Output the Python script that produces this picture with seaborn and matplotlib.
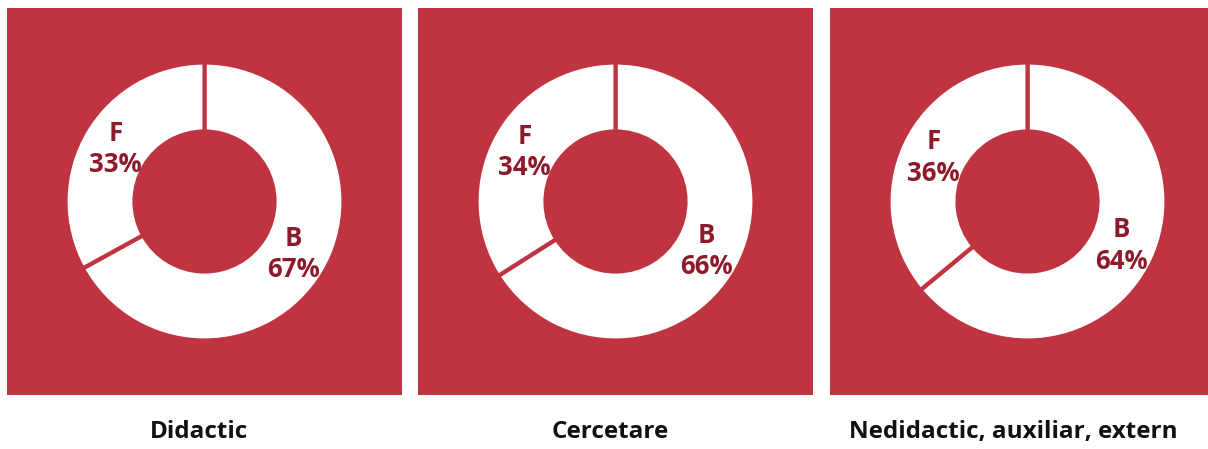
import matplotlib
matplotlib.use("Agg")
import matplotlib.pyplot as plt
import seaborn as sns

sns.set_theme(style="white")
plt.rcParams['font.family'] = ['Open Sans', 'DejaVu Sans']

categories = ["Didactic", "Cercetare", "Nedidactic, auxiliar, extern"]
segment_labels = ["B", "F"]
b_values = [67, 66, 64]
f_values = [33, 34, 36]

BG = "#BF3440"
TXT = "#8C1A2B"

W, H = 1208, 449
fig = plt.figure(figsize=(W / 100, H / 100), dpi=100)
fig.patch.set_facecolor("white")

panel_left = [7, 418, 830]
title_x = [199, 610, 1013]
panel_w = 395
panel_top = 8
panel_bottom = 395
R_px = 139.0
inner_frac = 70.0 / 139.0

for i, cat in enumerate(categories):
    x0 = panel_left[i]
    ax = fig.add_axes([x0 / W, (H - panel_bottom) / H, panel_w / W,
                       (panel_bottom - panel_top) / H])
    vals = [b_values[i], f_values[i]]
    labels = [f"{s}\n{v}%" for s, v in zip(segment_labels, vals)]
    wedges, texts = ax.pie(vals, labels=labels, startangle=90, counterclock=False,
                           colors=["white", "white"], radius=1.0,
                           labeldistance=0.745, frame=True,
                           wedgeprops=dict(width=1 - inner_frac, edgecolor=BG, linewidth=3),
                           textprops=dict(color=TXT, fontsize=18.5, fontweight="bold",
                                          linespacing=1.2))
    ax.set_facecolor(BG)
    for t in texts:
        t.set_ha("center")
        t.set_va("center")
    hx = panel_w / 2 / R_px
    hy = (panel_bottom - panel_top) / 2 / R_px
    ax.set_xlim(-hx, hx)
    ax.set_ylim(-hy, hy)
    ax.set_aspect("auto")
    ax.set_xticks([])
    ax.set_yticks([])
    ax.grid(False)
    for s in ax.spines.values():
        s.set_visible(False)
    fig.text(title_x[i] / W, 1 - 432 / H, cat, ha="center", va="center",
             fontsize=17.5, fontweight="bold", color="#111111")

fig.savefig("out.png", dpi=100, facecolor="white")
